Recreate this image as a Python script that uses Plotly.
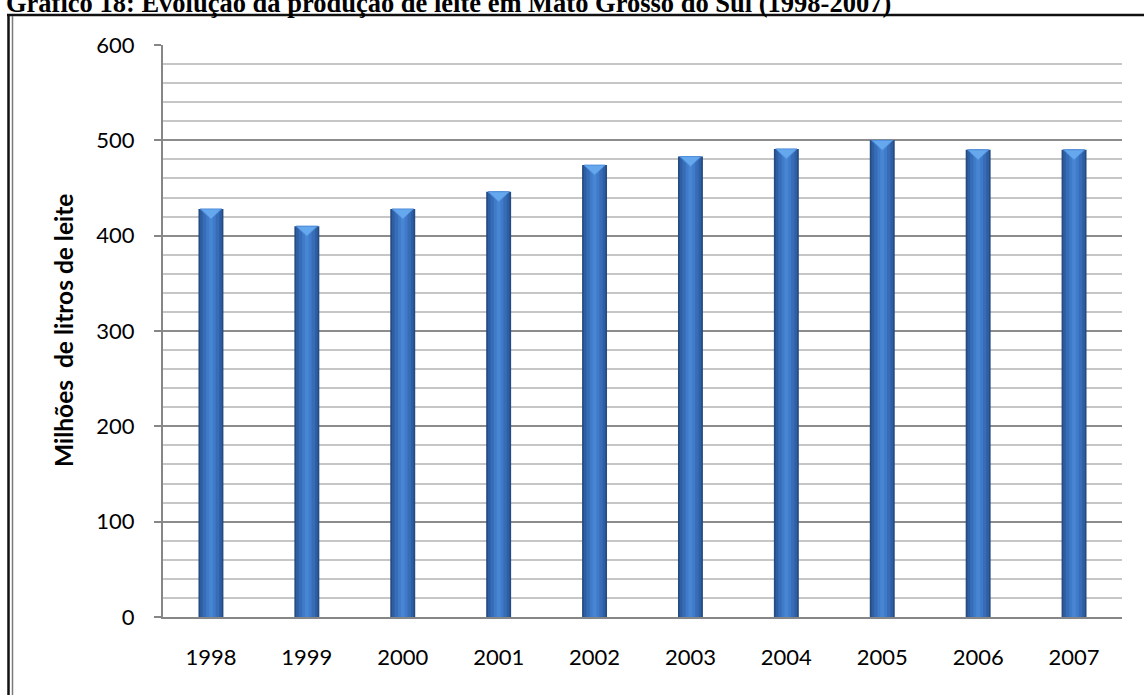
import plotly.graph_objects as go

# Produção anual de leite em Mato Grosso do Sul (milhões de litros)
anos = ["1998", "1999", "2000", "2001", "2002", "2003", "2004", "2005", "2006", "2007"]
producao = [428, 410, 428, 446, 474, 483, 491, 500, 490, 490]
y_ticks = [0, 100, 200, 300, 400, 500, 600]

W, H = 1144, 695
L, R, T, B = 163, 1122, 45, 617  # plot area in pixels
pos = list(range(len(anos)))


def px_x(p):
    return (p - L) / (R - L)


def px_y(p):
    return (B - p) / (B - T)


fig = go.Figure()

# cylinder-like shading built from nested bars
layers = [
    (0.26, "#254b82"),
    (0.225, "#2f5fa3"),
    (0.17, "#376cb7"),
    (0.10, "#3f7bc8"),
    (0.04, "#4885d2"),
]
for width, color in layers:
    fig.add_trace(go.Bar(
        x=pos, y=producao, width=width,
        marker=dict(color=color, line=dict(width=0)),
        hoverinfo="skip", showlegend=False,
    ))

# bevel on top of each bar
units_per_px = 600 / (B - T)
drop = 10 * units_per_px
half = 0.11
tx, ty = [], []
for p, v in zip(pos, producao):
    tx += [p - half, p + half, p, p - half, None]
    ty += [v, v, v - drop, v, None]
fig.add_trace(go.Scatter(
    x=tx, y=ty, mode="lines", fill="toself",
    fillcolor="#66a8ee", line=dict(color="#4f8fdc", width=1),
    hoverinfo="skip", showlegend=False,
))

font_axis = dict(family="Lato, 'Open Sans', sans-serif", size=22, color="#000000")

fig.update_layout(
    width=W, height=H,
    margin=dict(l=L, r=W - R, t=T, b=H - B),
    paper_bgcolor="white", plot_bgcolor="white",
    barmode="overlay",
    showlegend=False,
    xaxis=dict(
        range=[-0.5, len(anos) - 0.5],
        tickvals=pos, ticktext=anos,
        showgrid=False, zeroline=False,
        showline=True, linecolor="#868686", linewidth=2,
        ticks="", tickfont=font_axis, ticklabelstandoff=20,
    ),
    yaxis=dict(
        range=[0, 600], tickvals=y_ticks,
        showgrid=True, gridcolor="#8c8c8c", gridwidth=2,
        minor=dict(dtick=20, showgrid=True, gridcolor="#c6c6c6", gridwidth=2),
        zeroline=False,
        showline=True, linecolor="#868686", linewidth=2,
        ticks="outside", ticklen=7, tickcolor="#868686", tickwidth=2,
        tickfont=font_axis, ticklabelstandoff=15,
    ),
    annotations=[
        dict(
            text="<b>Milhões  de litros de leite</b>",
            x=px_x(63), y=0.5, xref="paper", yref="paper",
            xanchor="center", yanchor="middle", textangle=-90, showarrow=False,
            font=dict(family="Lato, 'Open Sans', sans-serif", size=24.5, color="#000000"),
        ),
        dict(
            text="<b>Gráfico 18: Evolução da produção de leite em Mato Grosso do Sul (1998-2007)</b>",
            x=px_x(4), y=px_y(20), xref="paper", yref="paper",
            xanchor="left", yanchor="bottom", showarrow=False,
            font=dict(family="'Liberation Serif', 'Times New Roman', serif", size=26.5, color="#000000"),
        ),
    ],
    shapes=[
        # frame: thick top rule and double left rule
        dict(type="line", xref="paper", yref="paper",
             x0=px_x(7), x1=px_x(W + 5), y0=px_y(15), y1=px_y(15),
             line=dict(color="#111111", width=2.5)),
        dict(type="line", xref="paper", yref="paper",
             x0=px_x(8.5), x1=px_x(8.5), y0=px_y(14), y1=px_y(H + 5),
             line=dict(color="#111111", width=2.5)),
        dict(type="line", xref="paper", yref="paper",
             x0=px_x(12.5), x1=px_x(12.5), y0=px_y(16), y1=px_y(H + 5),
             line=dict(color="#7a7a7a", width=1.5)),
    ],
)

fig.write_html("out.html")
